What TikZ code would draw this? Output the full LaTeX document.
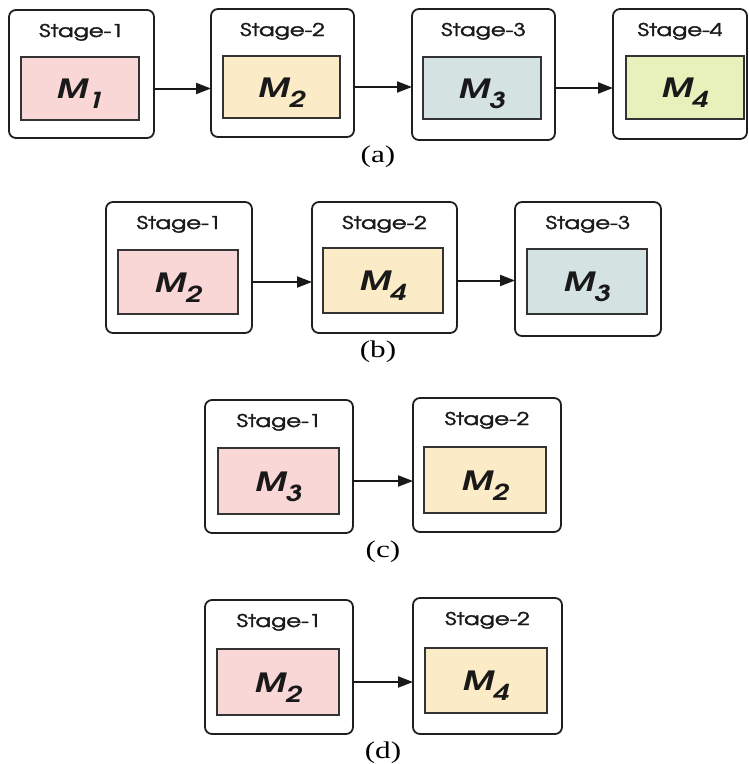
\documentclass[tikz,border=0pt]{standalone}
\usepackage{fontspec}
\usepackage{graphicx}
\newfontfamily\capfont{Liberation Serif}
\IfFontExistsTF{TeX Gyre Adventor}{\newfontfamily\agfont[FakeBold=1.8]{TeX Gyre Adventor}\newfontfamily\agmfont{TeX Gyre Adventor}}{\newfontfamily\agfont{Poppins}\newfontfamily\agmfont{Poppins}}
\usetikzlibrary{arrows.meta}
\definecolor{cpink}{HTML}{F9D7D7}
\definecolor{cbeige}{HTML}{FCEBC7}
\definecolor{cblue}{HTML}{D4E3E2}
\definecolor{cgreen}{HTML}{E8F0BB}
\newcommand{\stx}[1]{\scalebox{1.3}[1]{#1}}
\newcommand{\mlab}[1]{\stx{M\raisebox{-10pt}{\fontsize{22}{23}\selectfont #1}}}
\newcommand{\rectnode}[6]{\node[#1, minimum width={(#5)-(#3)}, minimum height={(#6)-(#4)}] (#2) at ({((#3)+(#5))/2},{((#4)+(#6))/2}) {};}
\begin{document}
\begin{tikzpicture}[x=1pt,y=-1pt,
  outerbox/.style={draw=black!88, line width=1.8pt, rounded corners=7pt, fill=white, inner sep=0pt, outer sep=0pt},
  innerbox/.style={draw=black!80, line width=1.6pt, inner sep=0pt, outer sep=0pt},
  stagelbl/.style={anchor=base, inner sep=0pt, font=\agfont\fontsize{17.5}{20}\selectfont, text=black!90},
  mlbl/.style={anchor=base, inner sep=0pt, font=\agmfont\fontsize{26.5}{28}\selectfont\bfseries\itshape, text=black!90},
  caplbl/.style={inner sep=0pt, font=\capfont\fontsize{24}{26}\selectfont},
  arr/.style={-{Triangle[length=15pt,width=11pt]}, line width=2pt, draw=black!90}]
\useasboundingbox (0,0) rectangle (748,764);
% ---------- (a)
\rectnode{outerbox}{oa1}{9}{10}{154}{138}
\rectnode{innerbox,fill=cpink}{ia1}{21}{57}{139}{120}
\node[stagelbl] (sa1) at ([yshift=-27pt]oa1.north) {\stx{Stage-1}};
\node[mlbl] (ma1) at ([yshift=-10pt]ia1.center) {\mlab{1}};
\rectnode{outerbox}{oa2}{211}{9}{354}{137}
\rectnode{innerbox,fill=cbeige}{ia2}{223}{56}{340}{118}
\node[stagelbl] (sa2) at ([yshift=-27pt]oa2.north) {\stx{Stage-2}};
\node[mlbl] (ma2) at ([yshift=-10pt]ia2.center) {\mlab{2}};
\rectnode{outerbox}{oa3}{412}{9}{555}{140}
\rectnode{innerbox,fill=cblue}{ia3}{423}{57}{541}{119}
\node[stagelbl] (sa3) at ([yshift=-27pt]oa3.north) {\stx{Stage-3}};
\node[mlbl] (ma3) at ([yshift=-10pt]ia3.center) {\mlab{3}};
\rectnode{outerbox}{oa4}{613}{9}{747}{139}
\rectnode{innerbox,fill=cgreen}{ia4}{626}{56}{744}{119}
\node[stagelbl] (sa4) at ([yshift=-27pt]oa4.north) {\stx{Stage-4}};
\node[mlbl] (ma4) at ([yshift=-10pt]ia4.center) {\mlab{4}};
\draw[arr] (oa1.east |- ia1.center) -- (oa2.west |- ia1.center);
\draw[arr] (oa2.east |- ia2.center) -- (oa3.west |- ia2.center);
\draw[arr] (oa3.east |- ia3.center) -- (oa4.west |- ia3.center);
\node[caplbl] (capa) at (378,157) {\stx{(a)}};
% ---------- (b)
\rectnode{outerbox}{ob1}{106}{202}{252}{333}
\rectnode{innerbox,fill=cpink}{ib1}{118}{250}{238}{314}
\node[stagelbl] (sb1) at ([yshift=-27pt]ob1.north) {\stx{Stage-1}};
\node[mlbl] (mb1) at ([yshift=-10pt]ib1.center) {\mlab{2}};
\rectnode{outerbox}{ob2}{312}{202}{457}{333}
\rectnode{innerbox,fill=cbeige}{ib2}{323}{248}{443}{313}
\node[stagelbl] (sb2) at ([yshift=-27pt]ob2.north) {\stx{Stage-2}};
\node[mlbl] (mb2) at ([yshift=-10pt]ib2.center) {\mlab{4}};
\rectnode{outerbox}{ob3}{515}{202}{661}{336}
\rectnode{innerbox,fill=cblue}{ib3}{527}{249}{647}{314}
\node[stagelbl] (sb3) at ([yshift=-27pt]ob3.north) {\stx{Stage-3}};
\node[mlbl] (mb3) at ([yshift=-10pt]ib3.center) {\mlab{3}};
\draw[arr] (ob1.east |- ib1.center) -- (ob2.west |- ib1.center);
\draw[arr] (ob2.east |- ib2.center) -- (ob3.west |- ib2.center);
\node[caplbl] (capb) at (378,352) {\stx{(b)}};
% ---------- (c)
\rectnode{outerbox}{oc1}{205}{400}{353}{533}
\rectnode{innerbox,fill=cpink}{ic1}{218}{448}{339}{514}
\node[stagelbl] (sc1) at ([yshift=-27pt]oc1.north) {\stx{Stage-1}};
\node[mlbl] (mc1) at ([yshift=-10pt]ic1.center) {\mlab{3}};
\rectnode{outerbox}{oc2}{413}{398}{561}{532}
\rectnode{innerbox,fill=cbeige}{ic2}{424}{447}{546}{513}
\node[stagelbl] (sc2) at ([yshift=-27pt]oc2.north) {\stx{Stage-2}};
\node[mlbl] (mc2) at ([yshift=-10pt]ic2.center) {\mlab{2}};
\draw[arr] (oc1.east |- ic1.center) -- (oc2.west |- ic1.center);
\node[caplbl] (capc) at (383,552) {\stx{(c)}};
% ---------- (d)
\rectnode{outerbox}{od1}{205}{600}{353}{734}
\rectnode{innerbox,fill=cpink}{id1}{217}{649}{339}{715}
\node[stagelbl] (sd1) at ([yshift=-27pt]od1.north) {\stx{Stage-1}};
\node[mlbl] (md1) at ([yshift=-10pt]id1.center) {\mlab{2}};
\rectnode{outerbox}{od2}{413}{598}{562}{734}
\rectnode{innerbox,fill=cbeige}{id2}{425}{648}{547}{713}
\node[stagelbl] (sd2) at ([yshift=-27pt]od2.north) {\stx{Stage-2}};
\node[mlbl] (md2) at ([yshift=-10pt]id2.center) {\mlab{4}};
\draw[arr] (od1.east |- id1.center) -- (od2.west |- id1.center);
\node[caplbl] (capd) at (383,753) {\stx{(d)}};
\end{tikzpicture}
\end{document}
